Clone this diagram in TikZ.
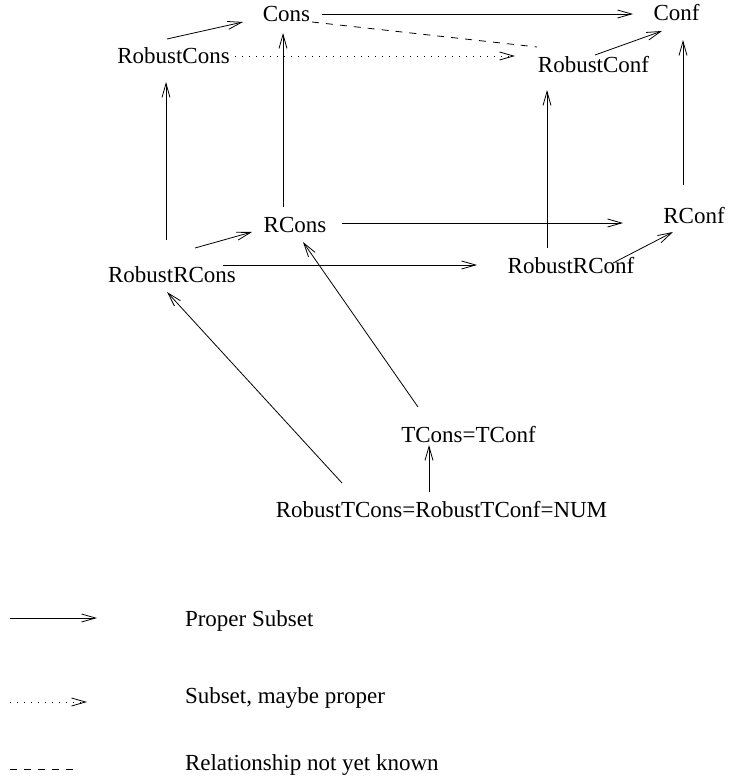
\documentclass[tikz,border=0pt]{standalone}
\usepackage{fontspec}
\setmainfont{Liberation Serif}
\usepackage{tikz}
\usetikzlibrary{arrows.meta}
\usetikzlibrary{calc}
\tikzset{every node/.style={inner sep=0pt,outer sep=0pt,anchor=base},
 proper/.style={draw,line width=0.8pt,-{Straight Barb[length=14pt,width=8pt]}},
 maybe/.style={draw,line width=0.8pt,dash pattern=on 1pt off 6pt,-{Straight Barb[length=14pt,width=8pt]}},
 unknown/.style={draw,line width=0.8pt,dash pattern=on 7pt off 7pt},
 legend/.style={anchor=base west},
 }

\begin{document}
\begin{tikzpicture}[x=1pt,y=-1pt,font=\fontsize{23}{27}\selectfont]
    \useasboundingbox (0,0) rectangle (728,778);
        \node (cons) at (286.5,22) {Cons};
        \node (conf) at (676.5,21) {Conf};
        \node (robcons) at (173.5,64) {RobustCons};
        \node (robconf) at (593.5,73) {RobustConf};
        \node (rcons) at (295,232) {RCons};
        \node (rconf) at (694,223) {RConf};
        \node (robrcons) at (172,282) {RobustRCons};
        \node (robrconf) at (571,273) {RobustRConf};
        \node (tcons) at (468.5,442) {TCons=TConf};
        \node (num) at (441.5,517) {RobustTCons=RobustTConf=NUM};
        % top layer
        \draw[proper] ($(robcons.base)+(-6.5,-25)$) -- ($(cons.base)+(-43.5,0)$);
        \draw[proper] ($(cons.base)+(35.5,-8)$) -- ($(conf.base)+(-43.5,-7)$);
        \draw[unknown] ($(cons.base)+(25.5,0)$) -- ($(robconf.base)+(-56.5,-26)$);
        \draw[maybe] ($(robcons.base)+(61.5,-8)$) -- ($(robconf.base)+(-78.5,-17)$);
        \draw[proper] ($(robconf.base)+(1.5,-18)$) -- ($(conf.base)+(-14.5,10)$);
        % verticals
        \draw[proper] ($(rconf.base)+(-11,-38)$) -- ($(conf.base)+(6.5,19)$);
        \draw[proper] ($(robrconf.base)+(-24,-25)$) -- ($(robconf.base)+(-46.5,17)$);
        \draw[proper] ($(rcons.base)+(-12,-25)$) -- ($(cons.base)+(-3.5,11)$);
        \draw[proper] ($(robrcons.base)+(-6,-42)$) -- ($(robcons.base)+(-7.5,18)$);
        % middle layer
        \draw[proper] ($(robrcons.base)+(23,-34)$) -- ($(rcons.base)+(-43,0)$);
        \draw[proper] ($(rcons.base)+(47,-9)$) -- ($(rconf.base)+(-71,0)$);
        \draw[proper] ($(robrcons.base)+(51,-17)$) -- ($(robrconf.base)+(-94,-8)$);
        \draw[proper] ($(robrconf.base)+(42,-10)$) -- ($(rconf.base)+(-21,9)$);
        % bottom
        \draw[proper] ($(tcons.base)+(-50.5,-35)$) -- ($(rcons.base)+(8,10)$);
        \draw[proper] ($(num.base)+(-12.5,-25)$) -- ($(tcons.base)+(-39.5,3)$);
        \draw[proper] ($(num.base)+(-99.5,-34)$) -- ($(robrcons.base)+(-5,10)$);
        % legend
        \node[legend] (lproper) at (185,626) {Proper Subset};
        \node[legend] (lmaybe) at (185,703) {Subset, maybe proper};
        \node[legend] (lunknown) at (185,770) {Relationship not yet known};
        \coordinate (p1) at ($(lproper.base west)+(-175,-8)$);
        \coordinate (p2) at ($(lproper.base west)+(-88,-8)$);
        \coordinate (m1) at ($(lmaybe.base west)+(-175,-1)$);
        \coordinate (m2) at ($(lmaybe.base west)+(-98,-1)$);
        \coordinate (u1) at ($(lunknown.base west)+(-175,-1)$);
        \coordinate (u2) at ($(lunknown.base west)+(-105,-1)$);
        \draw[proper] (p1) -- (p2);
        \draw[maybe] (m1) -- (m2);
        \draw[unknown] (u1) -- (u2);
    \end{tikzpicture}
\end{document}
